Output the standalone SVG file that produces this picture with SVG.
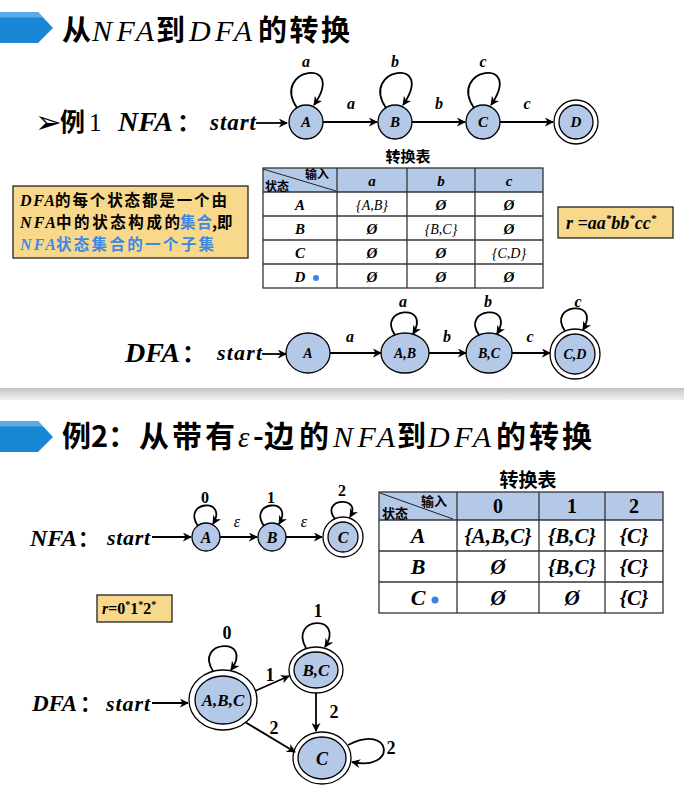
<svg xmlns="http://www.w3.org/2000/svg" width="684" height="792" viewBox="0 0 684 792">
<defs>
<style>
.cjk{font-family:"Noto Sans CJK SC","Noto Sans",sans-serif;font-weight:700;fill:#000}
.it{font-family:"Liberation Serif","Noto Sans CJK SC",serif;font-style:italic;font-weight:700;fill:#000}
.itn{font-family:"Liberation Serif",serif;font-style:italic;font-weight:400;fill:#000}
.ser{font-family:"Liberation Serif",serif;font-weight:700;fill:#000}
.node{fill:#b4c8e8;stroke:#000;stroke-width:1.3}
.ring{fill:#fff;stroke:#000;stroke-width:1.3}
.edge{fill:none;stroke:#000;stroke-width:1.8}
.loop{fill:none;stroke:#000;stroke-width:1.8}
.grid{fill:none;stroke:#333;stroke-width:1.3}
.hdr{fill:#b4c8e8}
.note{fill:#f8d88a;stroke:#222;stroke-width:1.3}
.blue{fill:#3f88e2}
.mid{text-anchor:middle}
</style>
<marker id="arr" viewBox="0 0 10 10" refX="9" refY="5" markerWidth="9" markerHeight="9" markerUnits="userSpaceOnUse" orient="auto">
<path d="M0,0 L10,5 L0,10 L3,5 z" fill="#000"/>
</marker>
<linearGradient id="band" x1="0" y1="0" x2="0" y2="1">
<stop offset="0" stop-color="#c2c2c2"/>
<stop offset="0.5" stop-color="#dcdcdc"/>
<stop offset="1" stop-color="#efefef"/>
</linearGradient>
</defs>
<rect x="0" y="0" width="684" height="792" fill="#fff"/>

<!-- Header 1 -->
<g id="header1">
<polygon points="0,12 38,12 53,28 38,43 0,43" fill="#1a86d6"/>
<polygon points="0,12 38,12 43,17.5 0,17.5" fill="#5eaae6"/>
<text x="62" y="41" class="cjk" font-size="29">从</text>
<text x="92" y="41" class="itn" font-size="30" textLength="62">NFA</text>
<text x="156" y="41" class="cjk" font-size="29">到</text>
<text x="189" y="41" class="itn" font-size="30" textLength="63">DFA</text>
<text x="258" y="41" class="cjk" font-size="29" textLength="92">的转换</text>
</g>

<!-- Example 1 label -->
<g id="ex1-label">
<text x="35" y="133" font-family="DejaVu Sans,sans-serif" font-size="32" fill="#000">➢</text>
<text x="60" y="131" class="cjk" font-size="25">例</text>
<text x="89" y="131" font-family="Liberation Serif,serif" font-size="25" fill="#000">1</text>
<text x="118" y="131" class="it" font-size="28">NFA</text>
<text x="177" y="131" class="cjk" font-size="24">：</text>
<text x="210" y="130" class="it" font-size="23" textLength="46">start</text>
</g>

<!-- NFA1 nodes -->
<g id="n1-A"><circle cx="306" cy="122" r="17" class="node"/><text x="306" y="127" class="it mid" font-size="15">A</text></g>
<g id="n1-B"><circle cx="395" cy="122" r="17" class="node"/><text x="395" y="127" class="it mid" font-size="15">B</text></g>
<g id="n1-C"><circle cx="483" cy="122" r="17" class="node"/><text x="483" y="127" class="it mid" font-size="15">C</text></g>
<g id="n1-D"><circle cx="576" cy="122" r="22" class="ring"/><circle cx="576" cy="122" r="17" class="node"/><text x="576" y="127" class="it mid" font-size="15">D</text></g>

<g id="n1-edges">
<line x1="256" y1="123" x2="287" y2="123" class="edge" marker-end="url(#arr)"/>
<line x1="323" y1="122" x2="377" y2="122" class="edge" marker-end="url(#arr)"/>
<line x1="412" y1="122" x2="465" y2="122" class="edge" marker-end="url(#arr)"/>
<line x1="500" y1="122" x2="553" y2="122" class="edge" marker-end="url(#arr)"/>
<path d="M297,108 C270,68 348,56 314,105" class="loop" marker-end="url(#arr)"/>
<path d="M386,108 C359,68 437,56 403,105" class="loop" marker-end="url(#arr)"/>
<path d="M474,108 C447,68 525,56 491,105" class="loop" marker-end="url(#arr)"/>
<text x="306" y="67" class="it mid" font-size="16">a</text>
<text x="395" y="67" class="it mid" font-size="16">b</text>
<text x="483" y="67" class="it mid" font-size="16">c</text>
<text x="351" y="109" class="it mid" font-size="16">a</text>
<text x="439" y="109" class="it mid" font-size="16">b</text>
<text x="527" y="109" class="it mid" font-size="16">c</text>
</g>

<!-- Note box -->
<g id="note1">
<rect x="13" y="186" width="235" height="72" class="note"/>
<text x="20" y="206" class="it" font-size="16" textLength="35">DFA</text>
<text x="55" y="206" class="cjk" font-size="15.5" textLength="172">的每个状态都是一个由</text>
<text x="20" y="228" class="it" font-size="16" textLength="36">NFA</text>
<text x="56" y="228" class="cjk" font-size="15.5" textLength="124">中的状态构成的</text>
<text x="180" y="228" class="cjk blue" font-size="15.5" textLength="32">集合</text>
<text x="212" y="228" class="cjk" font-size="15.5">,即</text>
<text x="20" y="250" class="it blue" font-size="16" textLength="36">NFA</text>
<text x="56" y="250" class="cjk blue" font-size="15.5" textLength="158">状态集合的一个子集</text>
</g>

<!-- Table 1 -->
<g id="table1">
<text x="408" y="162" class="cjk mid" font-size="15">转换表</text>
<rect x="263" y="168" width="280" height="24" class="hdr"/>
<rect x="263" y="168" width="280" height="120" class="grid"/>
<line x1="263" y1="192" x2="543" y2="192" class="grid"/>
<line x1="263" y1="216" x2="543" y2="216" class="grid"/>
<line x1="263" y1="240" x2="543" y2="240" class="grid"/>
<line x1="263" y1="264" x2="543" y2="264" class="grid"/>
<line x1="337" y1="168" x2="337" y2="288" class="grid"/>
<line x1="407" y1="168" x2="407" y2="288" class="grid"/>
<line x1="475" y1="168" x2="475" y2="288" class="grid"/>
<line x1="263" y1="169" x2="336" y2="191" stroke="#222" stroke-width="1"/>
<text x="305" y="179" class="cjk" font-size="12">输入</text>
<text x="265" y="191" class="cjk" font-size="12">状态</text>
<text x="372" y="186" class="it mid" font-size="15">a</text>
<text x="441" y="186" class="it mid" font-size="15">b</text>
<text x="509" y="186" class="it mid" font-size="15">c</text>
<text x="300" y="210" class="it mid" font-size="15">A</text>
<text x="372" y="210" class="itn mid" font-size="14">{A,B}</text>
<text x="441" y="210" class="it mid" font-size="15">Ø</text>
<text x="509" y="210" class="it mid" font-size="15">Ø</text>
<text x="300" y="234" class="it mid" font-size="15">B</text>
<text x="372" y="234" class="it mid" font-size="15">Ø</text>
<text x="441" y="234" class="itn mid" font-size="14">{B,C}</text>
<text x="509" y="234" class="it mid" font-size="15">Ø</text>
<text x="300" y="258" class="it mid" font-size="15">C</text>
<text x="372" y="258" class="it mid" font-size="15">Ø</text>
<text x="441" y="258" class="it mid" font-size="15">Ø</text>
<text x="509" y="258" class="itn mid" font-size="14">{C,D}</text>
<text x="300" y="282" class="it mid" font-size="15">D</text>
<circle cx="316" cy="278" r="3" fill="#3a82ee"/>
<text x="372" y="282" class="it mid" font-size="15">Ø</text>
<text x="441" y="282" class="it mid" font-size="15">Ø</text>
<text x="509" y="282" class="it mid" font-size="15">Ø</text>
</g>

<!-- r box 1 -->
<g id="rbox1">
<rect x="558" y="207" width="115" height="31" class="note"/>
<text x="566" y="229" class="it" font-size="18">r =aa<tspan dy="-7" font-size="11">*</tspan><tspan dy="7">bb</tspan><tspan dy="-7" font-size="11">*</tspan><tspan dy="7">cc</tspan><tspan dy="-7" font-size="11">*</tspan></text>
</g>

<!-- DFA1 -->
<g id="dfa1-label">
<text x="125" y="362" class="it" font-size="28">DFA</text>
<text x="182" y="362" class="cjk" font-size="24">：</text>
<text x="217" y="360" class="it" font-size="22" textLength="45">start</text>
</g>
<g id="d1-A"><ellipse cx="308" cy="353" rx="22" ry="20" class="node"/><text x="308" y="358" class="it mid" font-size="14">A</text></g>
<g id="d1-AB"><ellipse cx="405" cy="353" rx="24" ry="20" class="node"/><text x="405" y="358" class="it mid" font-size="14">A,B</text></g>
<g id="d1-BC"><ellipse cx="489" cy="353" rx="23" ry="20" class="node"/><text x="489" y="358" class="it mid" font-size="14">B,C</text></g>
<g id="d1-CD"><circle cx="575" cy="354" r="25" class="ring"/><circle cx="575" cy="354" r="20" class="node"/><text x="575" y="359" class="it mid" font-size="14">C,D</text></g>
<g id="d1-edges">
<line x1="262" y1="354" x2="286" y2="354" class="edge" marker-end="url(#arr)"/>
<line x1="330" y1="353" x2="381" y2="353" class="edge" marker-end="url(#arr)"/>
<line x1="429" y1="353" x2="466" y2="353" class="edge" marker-end="url(#arr)"/>
<line x1="512" y1="353" x2="550" y2="353" class="edge" marker-end="url(#arr)"/>
<path d="M395,335 C376,308 432,302 413,334" class="loop" marker-end="url(#arr)"/>
<path d="M479,335 C460,308 516,302 497,334" class="loop" marker-end="url(#arr)"/>
<path d="M565,331 C546,304 602,298 583,330" class="loop" marker-end="url(#arr)"/>
<text x="403" y="307" class="it mid" font-size="16">a</text>
<text x="488" y="307" class="it mid" font-size="16">b</text>
<text x="578" y="307" class="it mid" font-size="16">c</text>
<text x="350" y="342" class="it mid" font-size="16">a</text>
<text x="447" y="342" class="it mid" font-size="16">b</text>
<text x="530" y="342" class="it mid" font-size="16">c</text>
</g>

<!-- Separator -->
<rect x="0" y="388" width="684" height="12" fill="url(#band)"/>

<!-- Header 2 -->
<g id="header2">
<polygon points="0,421 38,421 53,437 38,452 0,452" fill="#1a86d6"/>
<polygon points="0,421 38,421 43,426.5 0,426.5" fill="#5eaae6"/>
<text x="62" y="447" class="cjk" font-size="29">例2：</text>
<text x="139" y="447" class="cjk" font-size="30" textLength="96">从带有</text>
<text x="238" y="447" class="itn" font-size="29">ε</text>
<text x="253" y="447" class="cjk" font-size="29">-</text>
<text x="264" y="447" class="cjk" font-size="30" textLength="65">边的</text>
<text x="333" y="447" class="itn" font-size="30" textLength="62">NFA</text>
<text x="397" y="447" class="cjk" font-size="29">到</text>
<text x="428" y="447" class="itn" font-size="30" textLength="63">DFA</text>
<text x="496" y="447" class="cjk" font-size="30" textLength="96">的转换</text>
</g>

<!-- NFA2 -->
<g id="nfa2-label">
<text x="30" y="546" class="it" font-size="24">NFA</text>
<text x="78" y="546" class="cjk" font-size="21">：</text>
<text x="107" y="545" class="it" font-size="22" textLength="43">start</text>
</g>
<g id="n2-A"><circle cx="206" cy="537" r="14" class="node"/><text x="206" y="543" class="it mid" font-size="16">A</text></g>
<g id="n2-B"><circle cx="272" cy="537" r="14" class="node"/><text x="272" y="543" class="it mid" font-size="16">B</text></g>
<g id="n2-C"><circle cx="343" cy="537" r="20" class="ring"/><circle cx="343" cy="537" r="15" class="node"/><text x="343" y="543" class="it mid" font-size="16">C</text></g>
<g id="n2-edges">
<line x1="152" y1="537" x2="191" y2="537" class="edge" marker-end="url(#arr)"/>
<line x1="220" y1="537" x2="257" y2="537" class="edge" marker-end="url(#arr)"/>
<line x1="286" y1="537" x2="322" y2="537" class="edge" marker-end="url(#arr)"/>
<path d="M198,526 C181,501 229,497 213,524" class="loop" marker-end="url(#arr)"/>
<path d="M264,526 C247,501 295,497 279,524" class="loop" marker-end="url(#arr)"/>
<path d="M335,519 C319,498 363,495 350,517" class="loop" marker-end="url(#arr)"/>
<text x="205" y="503" class="ser mid" font-size="16">0</text>
<text x="271" y="503" class="ser mid" font-size="16">1</text>
<text x="342" y="496" class="ser mid" font-size="16">2</text>
<text x="237" y="527" class="itn mid" font-size="16">ε</text>
<text x="304" y="527" class="itn mid" font-size="16">ε</text>
</g>

<!-- Table 2 -->
<g id="table2">
<text x="528" y="487" class="cjk mid" font-size="19">转换表</text>
<rect x="379" y="492" width="284" height="28" class="hdr"/>
<rect x="379" y="492" width="284" height="121" class="grid"/>
<line x1="379" y1="520" x2="663" y2="520" class="grid"/>
<line x1="379" y1="551" x2="663" y2="551" class="grid"/>
<line x1="379" y1="582" x2="663" y2="582" class="grid"/>
<line x1="457" y1="492" x2="457" y2="613" class="grid"/>
<line x1="539" y1="492" x2="539" y2="613" class="grid"/>
<line x1="605" y1="492" x2="605" y2="613" class="grid"/>
<line x1="380" y1="493" x2="453" y2="519" stroke="#222" stroke-width="1"/>
<text x="421" y="506" class="cjk" font-size="13">输入</text>
<text x="382" y="518" class="cjk" font-size="13">状态</text>
<text x="498" y="513" class="ser mid" font-size="20">0</text>
<text x="572" y="513" class="ser mid" font-size="20">1</text>
<text x="634" y="513" class="ser mid" font-size="20">2</text>
<text x="418" y="543" class="it mid" font-size="22">A</text>
<text x="498" y="543" class="it mid" font-size="21">{A,B,C}</text>
<text x="572" y="543" class="it mid" font-size="21">{B,C}</text>
<text x="634" y="543" class="it mid" font-size="21">{C}</text>
<text x="418" y="574" class="it mid" font-size="22">B</text>
<text x="498" y="574" class="it mid" font-size="21">Ø</text>
<text x="572" y="574" class="it mid" font-size="21">{B,C}</text>
<text x="634" y="574" class="it mid" font-size="21">{C}</text>
<text x="418" y="605" class="it mid" font-size="22">C</text>
<circle cx="435" cy="600" r="3.5" fill="#3a82ee"/>
<text x="498" y="605" class="it mid" font-size="21">Ø</text>
<text x="572" y="605" class="it mid" font-size="21">Ø</text>
<text x="634" y="605" class="it mid" font-size="21">{C}</text>
</g>

<!-- r box 2 -->
<g id="rbox2">
<rect x="97" y="595" width="75" height="27" class="note"/>
<text x="102" y="614" class="ser" font-size="16"><tspan class="it">r</tspan>=0<tspan dy="-6" font-size="10">*</tspan><tspan dy="6">1</tspan><tspan dy="-6" font-size="10">*</tspan><tspan dy="6">2</tspan><tspan dy="-6" font-size="10">*</tspan></text>
</g>

<!-- DFA2 -->
<g id="dfa2-label">
<text x="32" y="711" class="it" font-size="23">DFA</text>
<text x="80" y="711" class="cjk" font-size="21">：</text>
<text x="106" y="711" class="it" font-size="22" textLength="44">start</text>
</g>
<g id="d2-ABC"><ellipse cx="223" cy="700" rx="34" ry="30" class="ring"/><ellipse cx="223" cy="700" rx="28" ry="24" class="node"/><text x="223" y="706" class="it mid" font-size="17">A,B,C</text></g>
<g id="d2-BC"><ellipse cx="316" cy="670" rx="27" ry="23" class="ring"/><ellipse cx="316" cy="670" rx="22" ry="18" class="node"/><text x="316" y="676" class="it mid" font-size="17">B,C</text></g>
<g id="d2-C"><ellipse cx="322" cy="758" rx="29" ry="26" class="ring"/><ellipse cx="322" cy="758" rx="24" ry="21" class="node"/><text x="322" y="765" class="it mid" font-size="18">C</text></g>
<g id="d2-edges">
<line x1="152" y1="703" x2="188" y2="703" class="edge" marker-end="url(#arr)"/>
<line x1="255" y1="691" x2="289" y2="676" class="edge" marker-end="url(#arr)"/>
<line x1="316" y1="693" x2="316" y2="731" class="edge" marker-end="url(#arr)"/>
<line x1="245" y1="722" x2="295" y2="752" class="edge" marker-end="url(#arr)"/>
<path d="M213,671 C193,640 255,636 231,670" class="loop" marker-end="url(#arr)"/>
<path d="M306,648 C288,616 346,614 325,647" class="loop" marker-end="url(#arr)"/>
<path d="M348,745 C392,722 398,772 352,762" class="loop" marker-end="url(#arr)"/>
<text x="227" y="639" class="ser mid" font-size="18">0</text>
<text x="318" y="617" class="ser mid" font-size="18">1</text>
<text x="391" y="754" class="ser mid" font-size="18">2</text>
<text x="270" y="681" class="ser mid" font-size="18">1</text>
<text x="334" y="718" class="ser mid" font-size="18">2</text>
<text x="274" y="734" class="ser mid" font-size="18">2</text>
</g>
</svg>
